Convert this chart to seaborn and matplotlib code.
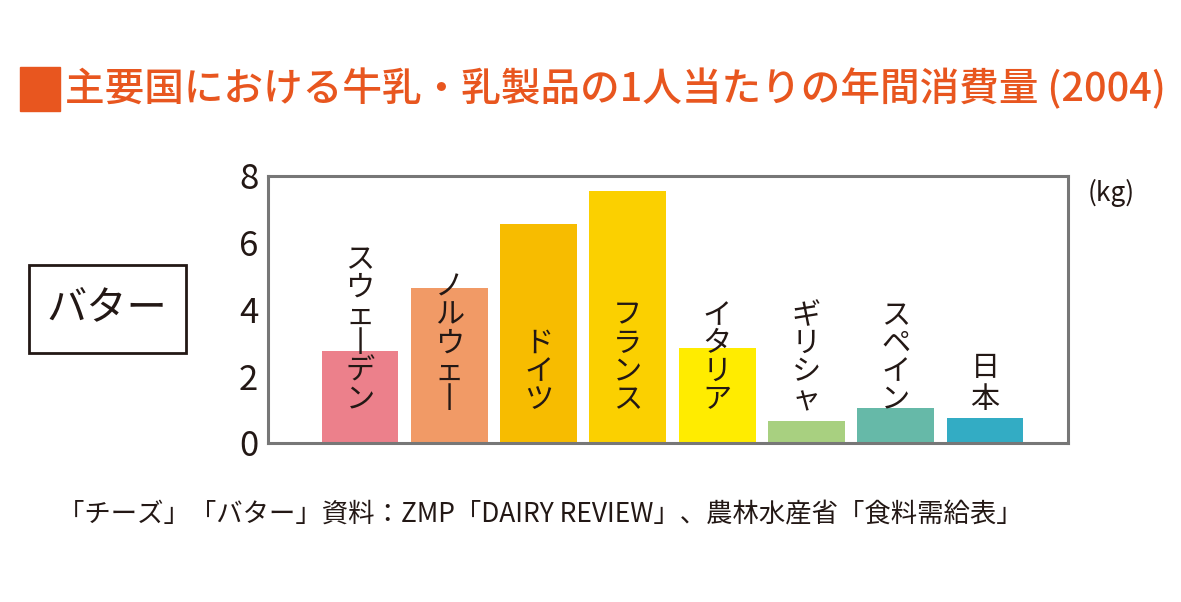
import matplotlib
matplotlib.use('Agg')
import matplotlib.pyplot as plt
import seaborn as sns
from matplotlib.patches import Rectangle

countries = ['スウェーデン', 'ノルウェー', 'ドイツ', 'フランス', 'イタリア', 'ギリシャ', 'スペイン', '日本']
butter_kg = [2.75, 4.65, 6.55, 7.55, 2.85, 0.66, 1.06, 0.76]
bar_colors = ['#EC808B', '#F19A66', '#F7BC00', '#FBD000', '#FFEC00', '#A8D080', '#66B9A8', '#33ACC4']
yticks = [0, 2, 4, 6, 8]

title = '主要国における牛乳・乳製品の1人当たりの年間消費量 (2004)'
footer = '「チーズ」「バター」資料：ZMP「DAIRY REVIEW」、農林水産省「食料需給表」'

sns.set_style('white')
plt.rcParams['font.family'] = ['Noto Sans CJK JP', 'DejaVu Sans']

fig = plt.figure(figsize=(11.81, 6.02), dpi=100)
ax = fig.add_axes([268 / 1181, 1 - 443 / 602, 800 / 1181, 267 / 602])

sns.barplot(x=countries, y=butter_kg, hue=countries, palette=bar_colors,
            legend=False, width=0.86, saturation=1, edgecolor='none', ax=ax)

ax.set_xlim(-1.03, 7.93)
ax.set_ylim(0, 8)
ax.set_yticks(yticks)
ax.set_xticks([])
ax.set_xlabel('')
ax.set_ylabel('')
ax.tick_params(axis='y', direction='in', length=14, width=2, color='#777777',
               labelsize=25, pad=7, labelcolor='#231815')
for s in ax.spines.values():
    s.set_color('#777777')
    s.set_linewidth(2.2)

# vertical country names, one glyph per row ("ー" turned upright)
for i, name in enumerate(countries):
    chars = [c.replace('ー', '丨') for c in name]
    n = len(chars)
    step = 20.2 if name != '日本' else 23
    for j, ch in enumerate(chars):
        ax.annotate(ch, xy=(i, 1.29), xytext=(0, (n - 1 - j) * step),
                    textcoords='offset points', ha='center', va='center',
                    fontsize=21, color='#231815')

fig.text(1088 / 1181, 1 - 193 / 602, '(kg)', fontsize=19, color='#231815',
         ha='left', va='center')

# title with orange square
fig.patches.append(Rectangle((20 / 1181, 1 - 111 / 602), 40 / 1181, 44 / 602,
                             transform=fig.transFigure, color='#E8561F'))
fig.text(65 / 1181, 1 - 89 / 602, title, fontsize=28.5, color='#E8561F',
         ha='left', va='center', fontweight='medium')

# "バター" box
fig.patches.append(Rectangle((29 / 1181, 1 - 353 / 602), 157 / 1181, 88 / 602,
                             transform=fig.transFigure, fill=False,
                             edgecolor='#231815', linewidth=2))
fig.text(107 / 1181, 1 - 309 / 602, 'バター', fontsize=29, color='#231815',
         ha='center', va='center')

fig.text(58 / 1181, 1 - 515 / 602, footer, fontsize=19, color='#231815',
         ha='left', va='center')

fig.savefig('out.png', dpi=100, facecolor='white')
